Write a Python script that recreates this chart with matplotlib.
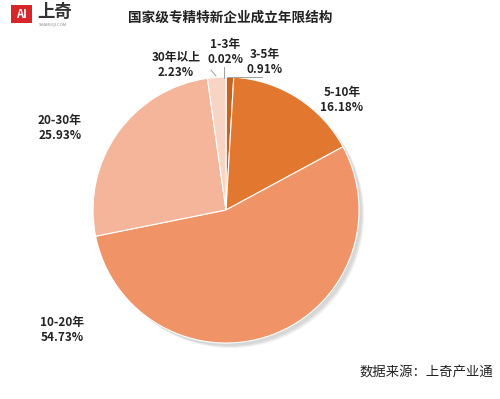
import matplotlib.pyplot as plt
from matplotlib.patches import Circle, Rectangle

plt.rcParams["font.family"] = ["Noto Sans CJK SC", "DejaVu Sans"]

categories = ["1-3年", "3-5年", "5-10年", "10-20年", "20-30年", "30年以上"]
shares = [0.02, 0.91, 16.18, 54.73, 25.93, 2.23]
share_labels = ["0.02%", "0.91%", "16.18%", "54.73%", "25.93%", "2.23%"]
colors = ["#B8541A", "#C8631F", "#E2772F", "#F09366", "#F4B59B", "#F8D4C4"]

# label anchor positions in pixel space (x, y from top)
label_pos = [(225, 52), (265, 62), (342, 100), (62, 330), (60, 128), (176, 65)]

W, H = 500, 399
fig = plt.figure(figsize=(5.0, 3.99), dpi=100)
ax = fig.add_axes([0, 0, 1, 1])

cx, cy, r = 226, H - 210, 133

# soft shadow
for k, a in enumerate([0.05, 0.05, 0.06]):
    ax.add_patch(Circle((cx + 3 + k, cy - 3 - k), r, color="#000000", alpha=a, lw=0, zorder=1))

wedges, _ = ax.pie(
    shares,
    colors=colors,
    startangle=90,
    counterclock=False,
    center=(cx, cy),
    radius=r,
    wedgeprops={"linewidth": 0.8, "edgecolor": "white"},
    frame=True,
)
for w in wedges:
    w.set_zorder(2)
ax.set_xlim(0, W)
ax.set_ylim(0, H)
ax.set_aspect("equal")
ax.axis("off")

for cat, lab, (lx, ly) in zip(categories, share_labels, label_pos):
    ax.text(lx, H - ly, f"{cat}\n{lab}", ha="center", va="center",
            fontsize=8.5, fontweight="bold", color="#222222", linespacing=1.15, zorder=5)

# leader lines
ax.plot([224, 224], [H - 67, H - 78], color="#A0A0A0", lw=0.7, zorder=4)
ax.plot([228, 262], [H - 77, H - 77], color="#A0A0A0", lw=0.7, zorder=4)
ax.plot([211, 216], [H - 70, H - 76], color="#A0A0A0", lw=0.7, zorder=4)

# title
ax.text(230, H - 17.5, "国家级专精特新企业成立年限结构", ha="center", va="center",
        fontsize=9.8, fontweight="bold", color="#222222")

# logo
ax.add_patch(Rectangle((11, H - 23), 21, 18, color="#D7262A", lw=0, zorder=5))
ax.text(21.5, H - 14, "AI", ha="center", va="center", fontsize=8,
        fontweight="bold", color="white", zorder=6)
ax.text(37, H - 12, "上奇", ha="left", va="center", fontsize=12.5,
        fontweight="bold", color="#333333")
ax.text(39, H - 24, "SHANGQI.COM", ha="left", va="center", fontsize=3,
        color="#888888")

# source
ax.text(493, H - 372, "数据来源：上奇产业通", ha="right", va="center",
        fontsize=9.6, color="#222222")

fig.savefig("out.png", dpi=100)
